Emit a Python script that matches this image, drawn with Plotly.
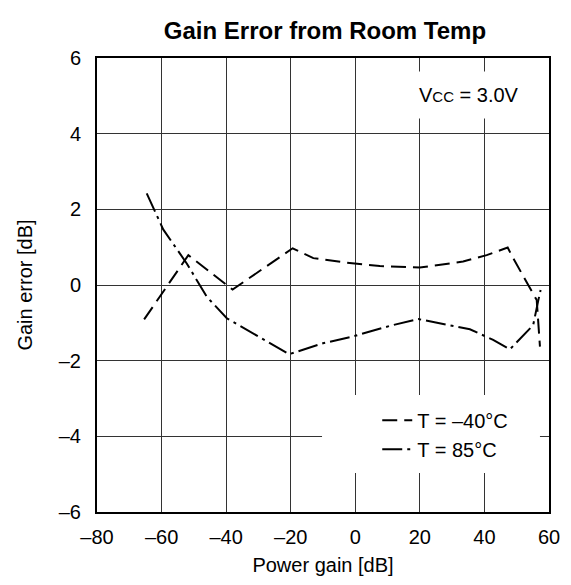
import plotly.graph_objects as go

# Data
x_m40 = [-65.4, -51.7, -38.0, -19.4, -13.0, -2.7, 7.6, 20.0, 33.4, 40.7, 47.2, 48.9, 56.2, 57.2]
y_m40 = [-0.91, 0.79, -0.12, 0.97, 0.71, 0.59, 0.50, 0.46, 0.62, 0.79, 0.99, 0.71, -0.40, -1.63]

x_85 = [-64.6, -59.5, -52.2, -46.0, -39.8, -20.5, -10.0, -1.6, 10.7, 19.5, 35.5, 42.7, 47.9, 55.1, 56.7, 57.4]
y_85 = [2.42, 1.47, 0.57, -0.31, -0.88, -1.83, -1.54, -1.38, -1.08, -0.90, -1.17, -1.45, -1.70, -1.06, -0.40, -0.13]

x_ticks = [-80, -60, -40, -20, 0, 20, 40, 60]
x_labels = ["–80", "–60", "–40", "–20", "0", "20", "40", "60"]
y_ticks = [-6, -4, -2, 0, 2, 4, 6]
y_labels = ["–6", "–4", "–2", "0", "2", "4", "6"]

FONT = "Liberation Sans, Arial, Helvetica, sans-serif"

fig = go.Figure()
fig.add_trace(go.Scatter(x=x_m40, y=y_m40, mode="lines", name="T = –40°C",
                         line=dict(color="black", width=2, dash="15px,7px")))
fig.add_trace(go.Scatter(x=x_85, y=y_85, mode="lines", name="T = 85°C",
                         line=dict(color="black", width=2, dash="20px,5px,3px,5px")))

axis_common = dict(showgrid=True, gridcolor="#333", gridwidth=1, zeroline=False,
                   showline=True, linecolor="black", linewidth=2, mirror=True,
                   ticks="", automargin=False,
                   tickfont=dict(size=20, color="black", family=FONT))

fig.update_xaxes(range=[-80, 60], tickvals=x_ticks, ticktext=x_labels, ticklabelstandoff=6,
                 title=dict(text="Power gain [dB]", font=dict(size=20, color="black", family=FONT), standoff=11),
                 **axis_common)
fig.update_yaxes(range=[-6, 6], tickvals=y_ticks, ticktext=y_labels, ticklabelstandoff=10,
                 title=dict(text="Gain error [dB]", font=dict(size=20, color="black", family=FONT), standoff=21),
                 **axis_common)

# white patch behind the legend (covers gridlines only)
fig.add_shape(type="rect", xref="x", yref="y", x0=-10.3, x1=57.2, y0=-4.97, y1=-2.91,
              fillcolor="white", line=dict(width=0), layer="between")

fig.add_annotation(x=35.2, y=5.02, xref="x", yref="y", showarrow=False,
                   text="V<span style='font-size:15px'>CC</span> = 3.0V",
                   font=dict(size=20, color="black", family=FONT),
                   bgcolor="white", borderpad=12)

fig.update_layout(
    width=563, height=577,
    margin=dict(l=89, r=22, t=50, b=73, autoexpand=False),
    paper_bgcolor="white", plot_bgcolor="white",
    title=dict(text="<b>Gain Error from Room Temp</b>", x=0.563, xanchor="center",
               y=0.960, yanchor="middle", font=dict(size=24, color="black", family=FONT)),
    legend=dict(x=0.62, y=0.245, xanchor="left", yanchor="top",
                bgcolor="white", borderwidth=0, tracegroupgap=0,
                font=dict(size=20, color="black", family=FONT)),
    font=dict(family=FONT, color="black"),
)

fig.write_html("out.html")
